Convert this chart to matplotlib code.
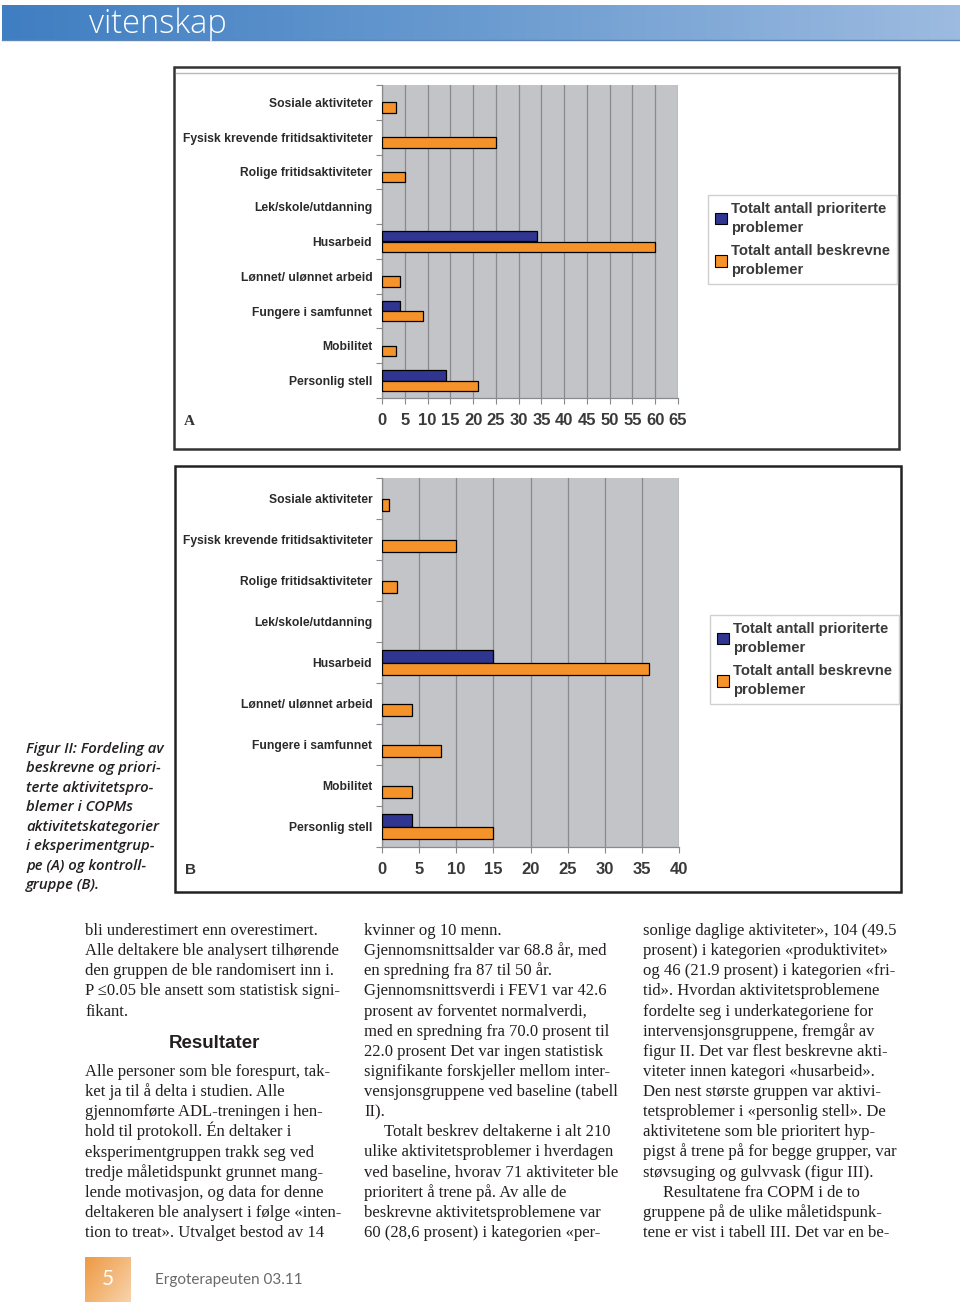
import numpy as np
import matplotlib
matplotlib.use("Agg")
import matplotlib.pyplot as plt
from matplotlib.patches import Rectangle, Patch
from matplotlib.colors import LinearSegmentedColormap

# ---------------- data ----------------
categories = ["Sosiale aktiviteter", "Fysisk krevende fritidsaktiviteter",
              "Rolige fritidsaktiviteter", "Lek/skole/utdanning", "Husarbeid",
              "Lønnet/ ulønnet arbeid", "Fungere i samfunnet", "Mobilitet",
              "Personlig stell"]
a_prioriterte = [0, 0, 0, 0, 34, 0, 4, 0, 14]
a_beskrevne = [3, 25, 5, 0, 60, 4, 9, 3, 21]
b_prioriterte = [0, 0, 0, 0, 15, 0, 0, 0, 4]
b_beskrevne = [1, 10, 2, 0, 36, 4, 8, 4, 15]
a_ticks = list(range(0, 70, 5))
b_ticks = list(range(0, 45, 5))
legend_labels = ["Totalt antall prioriterte\nproblemer",
                 "Totalt antall beskrevne\nproblemer"]

header_text = "vitenskap"
caption_lines = ["Figur II: Fordeling av", "beskrevne og priori-",
                 "terte aktivitetspro-", "blemer i COPMs",
                 "aktivitetskategorier", "i eksperimentgrup-",
                 "pe (A) og kontroll-", "gruppe (B)."]
col1_top = ["bli underestimert enn overestimert.",
            "Alle deltakere ble analysert tilhørende",
            "den gruppen de ble randomisert inn i.",
            "P ≤0.05 ble ansett som statistisk signi-",
            "fikant."]
col1_heading = "Resultater"
col1_bottom = ["Alle personer som ble forespurt, tak-",
               "ket ja til å delta i studien. Alle",
               "gjennomførte ADL-treningen i hen-",
               "hold til protokoll. Én deltaker i",
               "eksperimentgruppen trakk seg ved",
               "tredje måletidspunkt grunnet mang-",
               "lende motivasjon, og data for denne",
               "deltakeren ble analysert i følge «inten-",
               "tion to treat». Utvalget bestod av 14"]
col2 = ["kvinner og 10 menn.",
        "Gjennomsnittsalder var 68.8 år, med",
        "en spredning fra 87 til 50 år.",
        "Gjennomsnittsverdi i FEV1 var 42.6",
        "prosent av forventet normalverdi,",
        "med en spredning fra 70.0 prosent til",
        "22.0 prosent Det var ingen statistisk",
        "signifikante forskjeller mellom inter-",
        "vensjonsgruppene ved baseline (tabell",
        "II).",
        "\tTotalt beskrev deltakerne i alt 210",
        "ulike aktivitetsproblemer i hverdagen",
        "ved baseline, hvorav 71 aktiviteter ble",
        "prioritert å trene på. Av alle de",
        "beskrevne aktivitetsproblemene var",
        "60 (28,6 prosent) i kategorien «per-"]
col3 = ["sonlige daglige aktiviteter», 104 (49.5",
        "prosent) i kategorien «produktivitet»",
        "og 46 (21.9 prosent) i kategorien «fri-",
        "tid». Hvordan aktivitetsproblemene",
        "fordelte seg i underkategoriene for",
        "intervensjonsgruppene, fremgår av",
        "figur II. Det var flest beskrevne akti-",
        "viteter innen kategori «husarbeid».",
        "Den nest største gruppen var aktivi-",
        "tetsproblemer i «personlig stell». De",
        "aktivitetene som ble prioritert hyp-",
        "pigst å trene på for begge grupper, var",
        "støvsuging og gulvvask (figur III).",
        "\tResultatene fra COPM i de to",
        "gruppene på de ulike måletidspunk-",
        "tene er vist i tabell III. Det var en be-"]
page_number = "5"
footer_text = "Ergoterapeuten 03.11"

# ---------------- styling ----------------
W, H = 960, 1308
BLUE = "#2f3590"
ORANGE = "#f5922a"
PLOT_BG = "#c3c4c8"
GRID = "#8a8a8e"
SANS = ["Liberation Sans", "DejaVu Sans"]
SERIF = ["Liberation Serif", "DejaVu Serif"]
TEXT = "#231f20"

fig = plt.figure(figsize=(W / 100, H / 100), dpi=100)
fig.patch.set_facecolor("white")


def fx(x):
    return x / W


def fy(y):
    return 1 - y / H


def add_px_axes(x0, y0, x1, y1, **kw):
    return fig.add_axes([fx(x0), fy(y1), (x1 - x0) / W, (y1 - y0) / H], **kw)


# ---------------- header ----------------
hax = add_px_axes(2, 5, 960, 40)
cmap = LinearSegmentedColormap.from_list("hdr", ["#3f7ec2", "#6a9bd0", "#9dbbe0"])
hax.imshow(np.linspace(0, 1, 256)[None, :], cmap=cmap, aspect="auto",
           extent=[0, 1, 0, 1])
hax.set_axis_off()
fig.add_artist(plt.Line2D([fx(2), fx(960)], [fy(40), fy(40)], color="#5c86b8", lw=1))
fig.text(fx(89), fy(33), header_text, color="white", fontsize=23.5,
         family=["Open Sans", "Lato", "DejaVu Sans"], fontweight="light",
         va="baseline")


# ---------------- charts ----------------
def draw_panel(frame, plot, prio, besk, ticks, letter, letter_family, legend_box,
               frame_color):
    fx0, fy0, fx1, fy1 = frame
    fig.add_artist(Rectangle((fx(fx0), fy(fy1)), (fx1 - fx0) / W, (fy1 - fy0) / H,
                             transform=fig.transFigure, fill=False,
                             edgecolor=frame_color, lw=1.8))
    px0, py0, px1, py1 = plot
    ax = add_px_axes(px0, py0, px1, py1)
    ax.set_facecolor(PLOT_BG)
    n = len(categories)
    pos = np.arange(n)
    h = 0.3
    lw_p = [0.9 if v > 0 else 0 for v in prio]
    lw_b = [0.9 if v > 0 else 0 for v in besk]
    ax.barh(pos - h / 2, prio, height=h, color=BLUE, edgecolor="black",
            linewidth=lw_p, zorder=3)
    ax.barh(pos + h / 2, besk, height=h, color=ORANGE, edgecolor="black",
            linewidth=lw_b, zorder=3)
    ax.set_xlim(0, ticks[-1])
    ax.set_ylim(n - 0.5, -0.5)
    ax.set_xticks(ticks)
    ax.set_xticklabels([str(t) for t in ticks], fontsize=12, fontweight="bold",
                       family=SANS, color="#3a3a3a")
    ax.tick_params(axis="x", length=4, width=0.8, color=GRID, pad=7)
    ax.xaxis.grid(True, color=GRID, lw=0.9, zorder=1)
    ax.set_yticks(pos)
    ax.set_yticklabels(categories, fontsize=8.7, fontweight="bold", family=SANS,
                       color="#2a2a2a")
    ax.tick_params(axis="y", length=0, pad=7)
    ax.set_yticks(np.arange(-0.5, n, 1.0), minor=True)
    ax.tick_params(axis="y", which="minor", length=4, width=0.8, color=GRID)
    for s in ["top", "right"]:
        ax.spines[s].set_visible(False)
    for s in ["left", "bottom"]:
        ax.spines[s].set_color(GRID)
        ax.spines[s].set_linewidth(0.9)
    fig.text(fx(fx0 + 10), fy(py1 + 23), letter, fontsize=11, fontweight="bold",
             family=letter_family, color="#333333", va="center")
    handles = [Patch(facecolor=BLUE, edgecolor="black", lw=0.8),
               Patch(facecolor=ORANGE, edgecolor="black", lw=0.8)]
    lx0, ly0 = legend_box
    leg = fig.legend(handles, legend_labels, loc="upper left",
                     bbox_to_anchor=(fx(lx0), fy(ly0)), frameon=True,
                     fancybox=False, edgecolor="#d0d0d0", framealpha=1,
                     handlelength=0.8, handleheight=0.8, handletextpad=0.3,
                     labelspacing=0.65, borderpad=0.45, borderaxespad=0,
                     prop={"family": SANS, "weight": "bold", "size": 10.7})
    for t in leg.get_texts():
        t.set_color("#3a3a3a")
        t.set_linespacing(1.45)
    return ax


draw_panel((174, 67, 899, 449), (382, 85, 678, 398), a_prioriterte, a_beskrevne,
           a_ticks, "A", SERIF, (708, 195), "#333333")
fig.add_artist(plt.Line2D([fx(176), fx(897)], [fy(73), fy(73)], color="#b8b8b8", lw=1))
draw_panel((175, 466, 901, 892), (382, 478, 679, 847), b_prioriterte, b_beskrevne,
           b_ticks, "B", SANS, (710, 615), "#222222")

# ---------------- caption ----------------
for i, line in enumerate(caption_lines):
    fig.text(fx(26), fy(748 + i * 19.45 + 5), line, fontsize=10.7, style="italic",
             fontweight="semibold",
             family=["Open Sans", "DejaVu Sans"], color=TEXT, va="baseline")

# ---------------- body columns ----------------
LS = 20.13


def body_line(x, yc, s, **kw):
    indent = 0
    if s.startswith("\t"):
        s = s[1:]
        indent = 20
    fig.text(fx(x + indent), fy(yc + 5), s, fontsize=12, family=SERIF,
             color=TEXT, va="baseline", **kw)


for i, s in enumerate(col1_top):
    body_line(85, 930 + i * LS, s)
fig.text(fx(214), fy(1043), col1_heading, fontsize=13.5, fontweight="bold",
         family=SANS, color=TEXT, ha="center", va="center")
for i, s in enumerate(col1_bottom):
    body_line(85, 1071 + i * LS, s)
for i, s in enumerate(col2):
    body_line(364, 930 + i * LS, s)
for i, s in enumerate(col3):
    body_line(643, 930 + i * LS, s)

# ---------------- footer ----------------
fax = add_px_axes(85, 1257, 130, 1302)
gx, gy = np.meshgrid(np.linspace(0, 1, 64), np.linspace(0, 1, 64))
fcmap = LinearSegmentedColormap.from_list("ftr", ["#ee9a45", "#f3b676", "#f8d3ac"])
fax.imshow((gx * 0.6 + gy * 0.4), cmap=fcmap, aspect="auto", extent=[0, 1, 0, 1])
fax.set_axis_off()
fig.text(fx(107.5), fy(1279), page_number, color="white", fontsize=15,
         family=["Lato", "DejaVu Sans"], ha="center", va="center")
fig.text(fx(155), fy(1280), footer_text, color="#6a6a6a", fontsize=11,
         family=["Lato", "DejaVu Sans"], va="center")

fig.savefig("out.png", dpi=100, facecolor="white")
